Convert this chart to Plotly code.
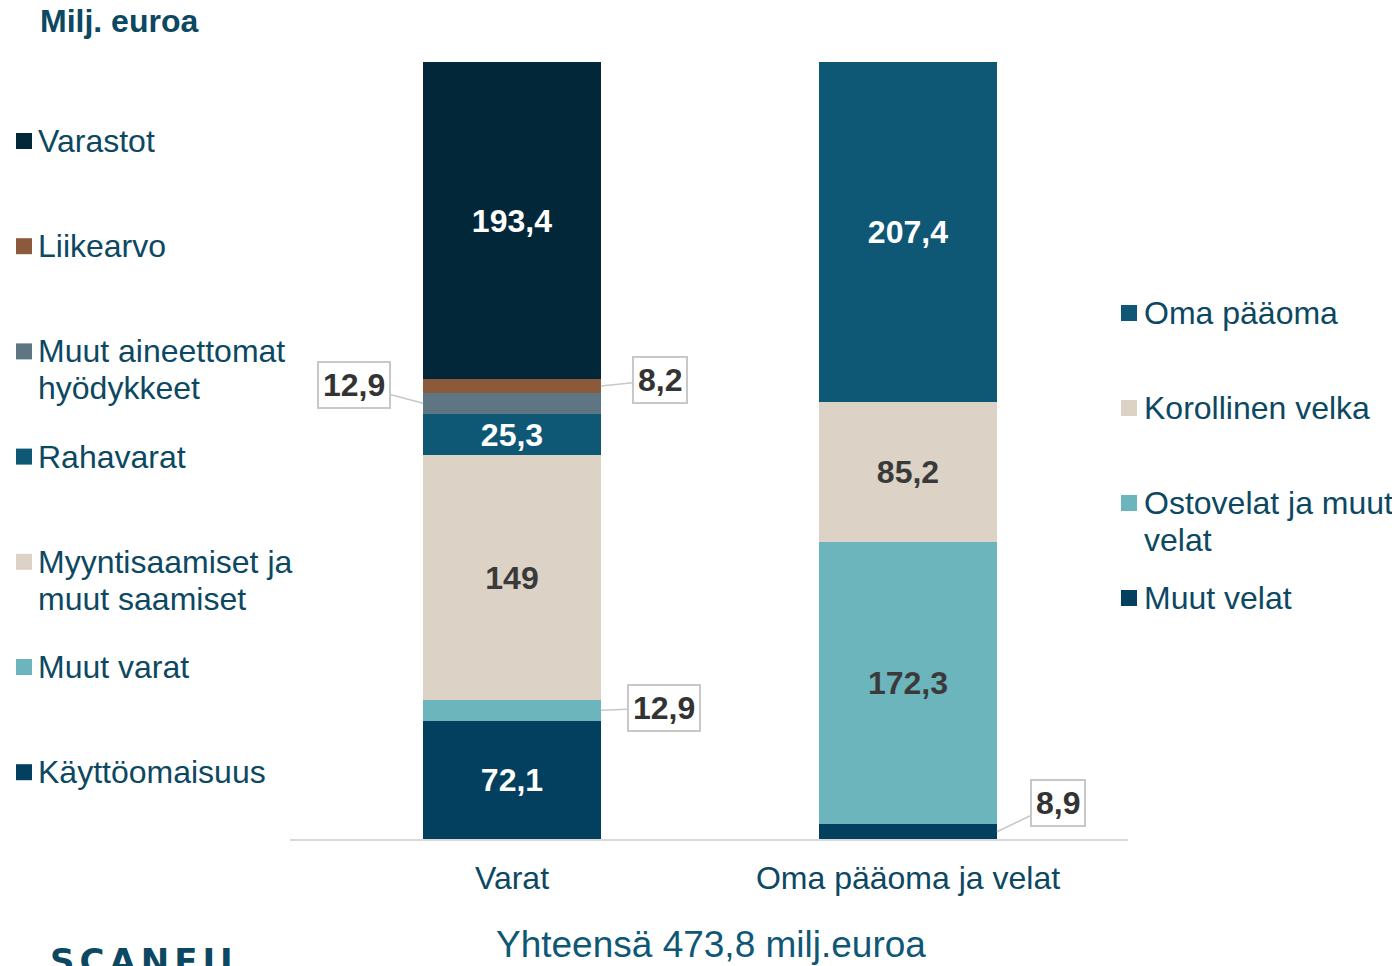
import plotly.graph_objects as go

# ---------------- data ----------------
categories = ["Varat", "Oma pääoma ja velat"]

asset_names = ["Käyttöomaisuus", "Muut varat", "Myyntisaamiset ja muut saamiset",
               "Rahavarat", "Muut aineettomat hyödykkeet", "Liikearvo", "Varastot"]
asset_values = [72.1, 12.9, 149, 25.3, 12.9, 8.2, 193.4]

liab_names = ["Muut velat", "Ostovelat ja muut velat", "Korollinen velka", "Oma pääoma"]
liab_values = [8.9, 172.3, 85.2, 207.4]

total_label = "Yhteensä 473,8 milj.euroa"
unit_label = "Milj. euroa"

# legend labels (top to bottom), line breaks marked with "|"
left_legend = ["Varastot", "Liikearvo", "Muut aineettomat|hyödykkeet", "Rahavarat",
               "Myyntisaamiset ja|muut saamiset", "Muut varat", "Käyttöomaisuus"]
right_legend = ["Oma pääoma", "Korollinen velka", "Ostovelat ja muut|velat", "Muut velat"]

# ---------------- styles ----------------
asset_colors = ["#033f5e", "#6db5bd", "#dcd3c6", "#0e5876", "#5e7684", "#8b5a3a", "#022739"]
asset_txtcol = ["white", "#3a3a3a", "#3a3a3a", "white", "white", "white", "white"]
asset_inside = [True, False, True, True, False, False, True]
liab_colors = ["#033f5e", "#6db5bd", "#dcd3c6", "#0e5876"]
liab_txtcol = ["white", "#3a3a3a", "#3a3a3a", "white"]
liab_inside = [False, True, True, True]

# callout offsets in px (side, ax, ay) keyed by (bar index, segment index)
callouts = {(0, 4): (-1, -69, -18), (0, 5): (1, 59, -6), (0, 1): (1, 63, -2), (1, 0): (1, 61, -29)}

FONT = "Liberation Sans, Arial, sans-serif"
TXT = "#0c4862"
FS = 32        # regular text
FSB = 32       # bold labels
OFF = 8        # page body margin
W, H = 1400 - OFF, 966 - OFF
# plot area in page pixels
L, R, T, B = 290, 1128, 62, 839
BW = 0.449


def fmt(v):
    return f"{v:g}".replace(".", ",")


fig = go.Figure()
callout_ann = []
for bi, (names, vals, cols, tcols, inside) in enumerate([
        (asset_names, asset_values, asset_colors, asset_txtcol, asset_inside),
        (liab_names, liab_values, liab_colors, liab_txtcol, liab_inside)]):
    cum = 0
    for si, (n, v, c, tc, ins) in enumerate(zip(names, vals, cols, tcols, inside)):
        fig.add_trace(go.Bar(
            x=[categories[bi]], y=[v], name=n, width=BW,
            marker=dict(color=c, line=dict(width=0)),
            text=[fmt(v) if ins else ""], textposition="inside",
            insidetextanchor="middle", constraintext="none", textangle=0,
            textfont=dict(family=FONT, size=FSB, color=tc, weight="bold"),
            showlegend=False, hoverinfo="skip"))
        if (bi, si) in callouts:
            side, ax, ay = callouts[(bi, si)]
            callout_ann.append(dict(
                x=bi + side * BW / 2, y=cum + v / 2, xref="x", yref="y",
                text=fmt(v), showarrow=True, arrowhead=0, arrowwidth=1.5,
                arrowcolor="#c8c8c8", ax=ax, ay=ay, standoff=0,
                bordercolor="#c8c8c8", borderwidth=2, borderpad=4, bgcolor="white",
                font=dict(family=FONT, size=FSB, color="#333333", weight="bold")))
        cum += v


def px_x(p):
    return (p - L) / (R - L)


def px_y(p):
    return (B - p) / (B - T)


ann = list(callout_ann)
shapes = []


def legend_block(labels, colors, sq_x, txt_x, y0, step):
    for i, (lab, col) in enumerate(zip(labels, colors)):
        yc = y0 + step * i
        shapes.append(dict(type="rect", xref="paper", yref="paper",
                           x0=px_x(sq_x), x1=px_x(sq_x + 16),
                           y0=px_y(yc + 8), y1=px_y(yc - 8),
                           fillcolor=col, line=dict(width=0)))
        for j, line in enumerate(lab.split("|")):
            ann.append(dict(x=px_x(txt_x), y=px_y(yc + 37 * j), xref="paper", yref="paper",
                            xanchor="left", yanchor="middle", showarrow=False, text=line,
                            font=dict(family=FONT, size=FS, color=TXT)))


legend_block(left_legend, list(reversed(asset_colors)), 16, 36, 141, 105.2)
legend_block(right_legend, list(reversed(liab_colors)), 1121, 1142, 313, 95)

ann.append(dict(x=px_x(38), y=px_y(21), xref="paper", yref="paper", xanchor="left",
                yanchor="middle", showarrow=False, text=unit_label,
                font=dict(family=FONT, size=32, color=TXT, weight="bold")))
ann.append(dict(x=px_x(711), y=px_y(945), xref="paper", yref="paper", xanchor="center",
                yanchor="middle", showarrow=False, text=total_label,
                font=dict(family=FONT, size=37, color="#0e5876")))
ann.append(dict(x=px_x(48), y=px_y(939), xref="paper", yref="paper", xanchor="left",
                yanchor="top", showarrow=False,
                text='<span style="letter-spacing:5px">SCANFIL</span>',
                font=dict(family="DejaVu Sans", size=34, color="#0c4862", weight="bold")))

fig.update_layout(
    width=W, height=H, barmode="stack", bargap=0,
    margin=dict(l=L - OFF, r=W - (R - OFF), t=T - OFF, b=H - (B - OFF), pad=0),
    paper_bgcolor="white", plot_bgcolor="white",
    font=dict(family=FONT, size=FS, color=TXT),
    xaxis=dict(type="category", range=[-0.5606, 1.5556], showline=True,
               linecolor="#d9d9d9", linewidth=2, showgrid=False, zeroline=False,
               ticks="", ticklabelstandoff=10,
               tickfont=dict(family=FONT, size=FS, color=TXT)),
    yaxis=dict(range=[0, sum(asset_values)], visible=False, showgrid=False, zeroline=False),
    annotations=ann, shapes=shapes, showlegend=False,
)

fig.write_html("out.html")
